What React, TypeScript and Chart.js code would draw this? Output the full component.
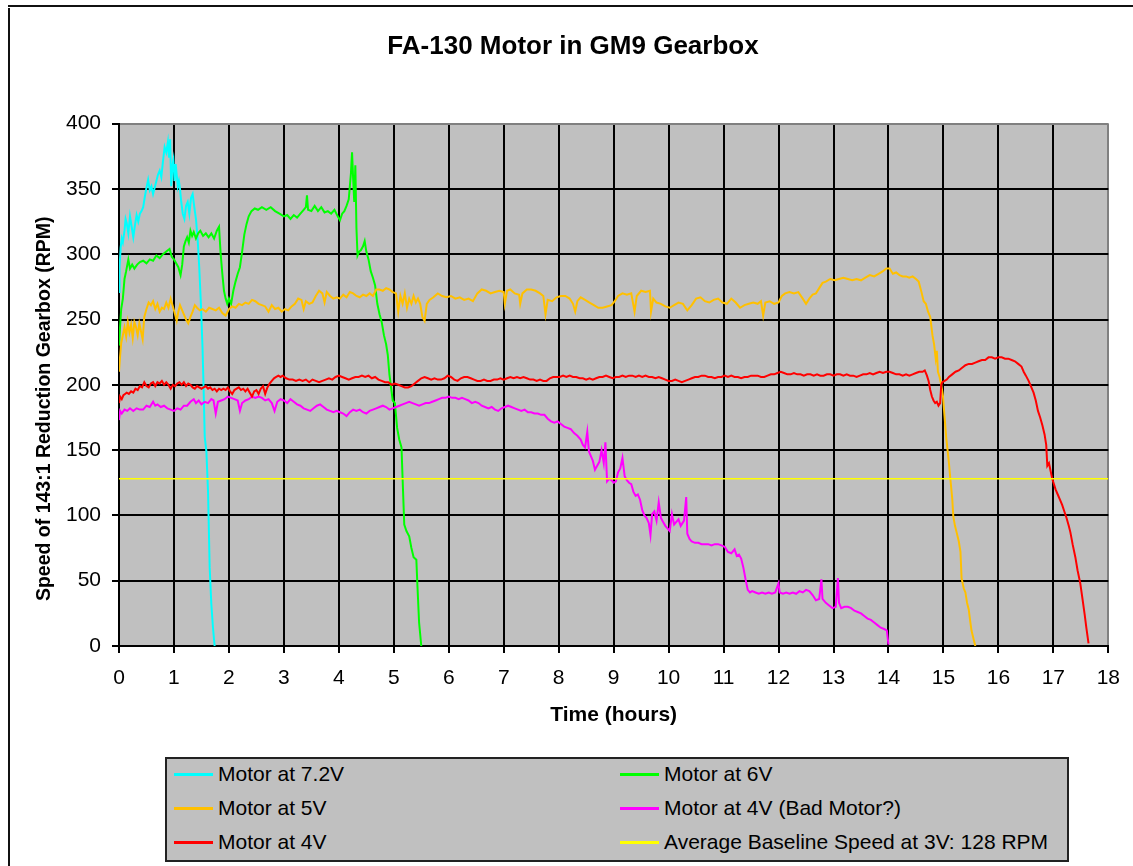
import React, { useEffect, useRef } from "react";
import { Chart, registerables } from "chart.js";

Chart.register(...registerables);

const TITLE = "FA-130 Motor in GM9 Gearbox";
const X_TITLE = "Time (hours)";
const Y_TITLE = "Speed of 143:1 Reduction Gearbox (RPM)";

const X_MIN = 0;
const X_MAX = 18;
const X_STEP = 1;
const Y_MIN = 0;
const Y_MAX = 400;
const Y_STEP = 50;

const SERIES_NAMES = [
  "Motor at 7.2V",
  "Motor at 6V",
  "Motor at 5V",
  "Motor at 4V (Bad Motor?)",
  "Motor at 4V",
  "Average Baseline Speed at 3V: 128 RPM",
];
const SERIES_COLORS = ["#00FFFF", "#00FF00", "#FFC000", "#FF00FF", "#FF0000", "#FFFF00"];

// [hours, RPM]
const motor72V: [number, number][] = [
  [0,271],[0.01,290],[0.03,305],[0.05,312],[0.07,309],[0.1,318],[0.12,327],[0.14,324],[0.17,316],[0.2,329],
  [0.23,321],[0.26,313],[0.29,322],[0.32,330],[0.35,325],[0.38,331],[0.41,333],[0.44,336],[0.47,344],[0.5,351],
  [0.53,357],[0.56,349],[0.59,352],[0.62,346],[0.65,351],[0.68,356],[0.71,361],[0.74,364],[0.77,359],[0.8,371],
  [0.83,382],[0.86,378],[0.89,386],[0.91,374],[0.93,388],[0.95,352],[0.97,367],[0.99,372],[1.01,356],[1.03,369],
  [1.05,361],[1.07,352],[1.09,356],[1.11,350],[1.13,341],[1.16,331],[1.19,327],[1.22,337],[1.25,340],[1.28,331],
  [1.31,343],[1.34,346],[1.37,336],[1.4,327],[1.43,312],[1.46,290],[1.49,262],[1.52,228],[1.54,196],[1.56,160],
  [1.59,149],[1.62,118],[1.65,60],[1.68,32],[1.71,14],[1.74,0],
];

const motor6V: [number, number][] = [
  [0,230],[0.02,245],[0.04,258],[0.07,266],[0.1,281],[0.13,287],[0.17,296],[0.2,289],[0.24,292],[0.28,289],
  [0.33,292],[0.38,294],[0.44,295],[0.5,293],[0.56,296],[0.62,295],[0.68,299],[0.74,297],[0.8,300],[0.86,302],
  [0.92,304],[0.96,298],[1.0,296],[1.04,293],[1.08,290],[1.12,284],[1.15,292],[1.18,306],[1.21,310],[1.24,313],
  [1.27,309],[1.3,318],[1.33,314],[1.36,317],[1.4,312],[1.44,316],[1.48,318],[1.53,314],[1.58,316],[1.63,313],
  [1.68,316],[1.73,312],[1.78,318],[1.82,321],[1.85,300],[1.88,285],[1.91,272],[1.94,266],[1.97,262],[2.0,266],
  [2.04,262],[2.08,272],[2.12,279],[2.16,285],[2.2,290],[2.24,302],[2.28,315],[2.32,323],[2.36,329],[2.41,333],
  [2.47,335],[2.53,334],[2.6,336],[2.68,334],[2.76,336],[2.84,333],[2.92,331],[3.0,329],[3.06,330],[3.12,327],
  [3.18,330],[3.24,328],[3.3,331],[3.36,334],[3.4,336],[3.42,345],[3.44,334],[3.5,333],[3.56,337],[3.62,333],
  [3.68,336],[3.74,332],[3.8,333],[3.86,331],[3.92,334],[3.98,329],[4.02,326],[4.06,331],[4.1,333],[4.14,337],
  [4.18,342],[4.2,352],[4.22,362],[4.24,378],[4.26,358],[4.28,340],[4.3,368],[4.32,320],[4.34,299],[4.37,302],
  [4.4,303],[4.44,306],[4.47,310],[4.5,302],[4.54,296],[4.58,287],[4.62,282],[4.66,276],[4.7,262],[4.74,254],
  [4.78,248],[4.82,238],[4.86,231],[4.89,223],[4.92,208],[4.95,198],[4.98,188],[5.02,186],[5.06,167],[5.1,158],
  [5.14,152],[5.16,128],[5.19,93],[5.23,88],[5.28,84],[5.32,75],[5.36,68],[5.41,66],[5.43,46],[5.46,18],[5.5,0],
];

const motor5V: [number, number][] = [
  [0,210],[0.02,222],[0.04,232],[0.07,238],[0.1,244],[0.13,237],[0.16,248],[0.19,240],[0.22,246],[0.25,236],
  [0.28,248],[0.31,244],[0.34,238],[0.37,247],[0.4,241],[0.43,235],[0.46,252],[0.5,258],[0.54,263],[0.58,261],
  [0.62,264],[0.66,258],[0.7,262],[0.74,256],[0.78,259],[0.82,258],[0.86,263],[0.9,259],[0.94,266],[0.98,260],
  [1.02,254],[1.05,249],[1.08,256],[1.11,261],[1.14,258],[1.18,254],[1.22,250],[1.26,247],[1.3,252],[1.34,256],
  [1.38,261],[1.42,259],[1.47,257],[1.52,258],[1.58,256],[1.64,259],[1.7,258],[1.76,257],[1.82,259],[1.88,255],
  [1.94,253],[2.0,258],[2.06,260],[2.12,259],[2.18,262],[2.24,261],[2.3,263],[2.36,262],[2.42,265],[2.48,264],
  [2.54,262],[2.6,261],[2.66,260],[2.72,256],[2.78,261],[2.84,258],[2.9,259],[2.96,256],[3.02,258],[3.08,257],
  [3.14,260],[3.2,262],[3.26,266],[3.32,265],[3.36,258],[3.4,264],[3.46,262],[3.52,263],[3.58,268],[3.64,272],
  [3.7,270],[3.74,263],[3.78,271],[3.84,268],[3.9,266],[3.96,267],[4.02,266],[4.08,269],[4.14,267],[4.2,271],
  [4.26,270],[4.32,268],[4.38,267],[4.44,269],[4.5,268],[4.56,270],[4.62,268],[4.68,273],[4.74,273],[4.8,272],
  [4.86,274],[4.92,273],[4.98,271],[5.04,270],[5.08,256],[5.12,268],[5.16,262],[5.2,270],[5.24,259],[5.28,266],
  [5.32,262],[5.36,268],[5.4,263],[5.44,266],[5.48,262],[5.52,252],[5.56,249],[5.6,262],[5.65,265],[5.72,267],
  [5.8,270],[5.88,268],[5.96,267],[6.04,268],[6.12,266],[6.2,267],[6.28,265],[6.36,266],[6.44,264],[6.52,270],
  [6.6,273],[6.68,272],[6.76,270],[6.84,271],[6.92,272],[7.0,271],[7.02,262],[7.06,272],[7.12,273],[7.2,270],
  [7.28,269],[7.3,262],[7.34,270],[7.42,273],[7.5,273],[7.58,272],[7.66,270],[7.72,268],[7.76,254],[7.8,265],
  [7.88,264],[7.96,267],[8.04,268],[8.12,268],[8.2,266],[8.26,262],[8.3,256],[8.34,264],[8.4,267],[8.48,265],
  [8.56,263],[8.64,261],[8.72,259],[8.8,259],[8.88,260],[8.96,261],[9.02,264],[9.08,268],[9.16,270],[9.24,269],
  [9.32,270],[9.38,256],[9.42,268],[9.5,272],[9.58,271],[9.66,272],[9.68,256],[9.72,266],[9.78,263],[9.86,262],
  [9.94,260],[10.02,259],[10.1,261],[10.18,263],[10.26,262],[10.34,257],[10.42,261],[10.5,266],[10.58,267],[10.66,264],
  [10.74,263],[10.82,265],[10.9,266],[10.98,263],[11.06,262],[11.14,266],[11.22,263],[11.3,259],[11.38,261],[11.46,262],
  [11.54,263],[11.62,262],[11.68,264],[11.72,253],[11.76,263],[11.84,264],[11.92,262],[12.0,263],[12.06,268],[12.12,270],
  [12.2,271],[12.28,270],[12.36,271],[12.44,266],[12.5,262],[12.56,266],[12.62,269],[12.68,270],[12.74,274],[12.8,278],
  [12.86,279],[12.94,281],[13.02,280],[13.1,281],[13.18,282],[13.26,281],[13.34,280],[13.42,281],[13.5,280],[13.58,282],
  [13.66,284],[13.74,283],[13.82,285],[13.9,287],[13.96,289],[14.02,289],[14.08,285],[14.14,286],[14.2,284],[14.26,283],
  [14.32,283],[14.38,282],[14.44,283],[14.5,281],[14.55,279],[14.6,271],[14.64,264],[14.68,262],[14.72,256],[14.76,252],
  [14.8,238],[14.83,231],[14.86,220],[14.88,226],[14.9,210],[14.93,206],[14.96,200],[14.99,192],[15.02,176],[15.05,160],
  [15.08,148],[15.1,140],[15.13,126],[15.16,113],[15.18,99],[15.21,92],[15.24,87],[15.28,80],[15.31,72],[15.33,52],
  [15.37,44],[15.4,41],[15.43,33],[15.46,28],[15.49,18],[15.51,12],[15.55,5],[15.58,0],
];

const motor4VBad: [number, number][] = [
  [0,173],[0.02,180],[0.05,178],[0.1,181],[0.15,180],[0.2,182],[0.26,180],[0.32,182],[0.38,181],[0.44,181],
  [0.5,184],[0.56,183],[0.62,187],[0.66,184],[0.7,185],[0.76,183],[0.82,184],[0.88,182],[0.94,181],[1.0,180],
  [1.06,182],[1.12,181],[1.18,184],[1.24,184],[1.3,187],[1.36,189],[1.4,186],[1.45,188],[1.5,185],[1.56,187],
  [1.62,186],[1.68,189],[1.72,188],[1.76,178],[1.8,187],[1.86,188],[1.92,189],[1.98,191],[2.04,190],[2.1,189],
  [2.16,188],[2.2,180],[2.24,186],[2.3,188],[2.36,189],[2.42,191],[2.48,190],[2.54,191],[2.6,190],[2.66,188],
  [2.72,189],[2.78,186],[2.83,180],[2.88,187],[2.94,189],[3.0,188],[3.06,186],[3.12,189],[3.18,187],[3.24,185],
  [3.3,184],[3.36,182],[3.42,181],[3.48,180],[3.54,182],[3.6,184],[3.66,185],[3.72,183],[3.78,181],[3.84,180],
  [3.9,179],[3.96,180],[4.02,179],[4.08,178],[4.14,176],[4.2,179],[4.26,181],[4.32,180],[4.38,181],[4.44,179],
  [4.5,178],[4.56,180],[4.62,181],[4.68,182],[4.74,183],[4.8,184],[4.86,183],[4.92,181],[4.98,182],[5.04,183],
  [5.1,184],[5.16,185],[5.22,186],[5.28,187],[5.34,186],[5.4,185],[5.46,184],[5.52,185],[5.58,186],[5.64,186],
  [5.7,187],[5.76,188],[5.82,189],[5.88,190],[5.94,190],[6.0,191],[6.06,190],[6.12,190],[6.18,189],[6.24,190],
  [6.3,189],[6.36,188],[6.42,186],[6.48,187],[6.54,186],[6.6,184],[6.66,183],[6.72,182],[6.78,183],[6.84,181],
  [6.9,180],[6.96,182],[7.02,183],[7.08,184],[7.14,183],[7.2,182],[7.26,181],[7.32,180],[7.38,181],[7.44,179],
  [7.5,179],[7.56,178],[7.62,178],[7.68,177],[7.74,177],[7.8,174],[7.86,172],[7.92,171],[7.98,172],[8.04,170],
  [8.1,168],[8.16,167],[8.22,166],[8.28,163],[8.34,161],[8.4,158],[8.44,154],[8.48,152],[8.52,164],[8.55,149],
  [8.58,146],[8.62,142],[8.66,135],[8.7,138],[8.74,141],[8.78,150],[8.82,140],[8.85,156],[8.88,126],[8.92,128],
  [8.96,127],[9.0,125],[9.04,126],[9.08,133],[9.12,136],[9.16,144],[9.2,130],[9.24,127],[9.28,125],[9.32,124],
  [9.36,118],[9.4,115],[9.44,116],[9.48,112],[9.52,104],[9.56,100],[9.6,98],[9.64,94],[9.67,85],[9.7,101],
  [9.74,103],[9.78,96],[9.82,110],[9.86,98],[9.9,95],[9.94,92],[9.98,90],[10.02,88],[10.06,101],[10.1,93],
  [10.14,95],[10.18,97],[10.22,92],[10.28,96],[10.32,114],[10.34,86],[10.38,82],[10.42,80],[10.48,79],[10.54,79],
  [10.6,78],[10.66,78],[10.72,78],[10.78,77],[10.84,78],[10.9,78],[10.96,77],[11.02,76],[11.08,72],[11.14,71],
  [11.2,74],[11.24,69],[11.28,70],[11.32,67],[11.36,60],[11.4,51],[11.44,43],[11.48,41],[11.52,42],[11.58,41],
  [11.64,40],[11.7,41],[11.76,40],[11.82,41],[11.88,40],[11.94,41],[12.0,48],[12.02,41],[12.08,40],[12.14,41],
  [12.2,40],[12.26,41],[12.32,40],[12.38,42],[12.44,41],[12.5,43],[12.56,42],[12.62,39],[12.68,35],[12.74,36],
  [12.78,51],[12.8,36],[12.86,33],[12.92,31],[12.98,29],[13.04,30],[13.08,52],[13.1,33],[13.14,29],[13.2,30],
  [13.26,30],[13.32,29],[13.38,27],[13.44,26],[13.5,25],[13.56,23],[13.62,21],[13.68,20],[13.74,18],[13.8,16],
  [13.86,14],[13.92,13],[13.97,12],[14.0,1],
];

const motor4V: [number, number][] = [
  [0,186],[0.02,191],[0.05,189],[0.08,192],[0.11,193],[0.14,194],[0.18,193],[0.22,195],[0.26,194],[0.3,197],
  [0.34,196],[0.38,199],[0.42,198],[0.46,202],[0.5,199],[0.54,198],[0.58,201],[0.62,202],[0.66,199],[0.7,202],
  [0.74,201],[0.78,203],[0.82,200],[0.86,202],[0.9,200],[0.94,197],[0.98,200],[1.02,199],[1.06,201],[1.1,202],
  [1.14,200],[1.18,202],[1.22,199],[1.26,201],[1.3,200],[1.34,198],[1.38,197],[1.42,199],[1.46,198],[1.5,197],
  [1.54,198],[1.58,199],[1.62,197],[1.66,198],[1.7,196],[1.74,197],[1.78,195],[1.82,197],[1.86,196],[1.9,197],
  [1.94,196],[1.98,198],[2.02,195],[2.06,193],[2.1,196],[2.14,197],[2.18,198],[2.22,196],[2.26,197],[2.3,195],
  [2.34,197],[2.38,194],[2.42,191],[2.46,195],[2.5,196],[2.54,193],[2.58,197],[2.62,199],[2.66,193],[2.7,198],
  [2.74,201],[2.78,203],[2.82,205],[2.86,206],[2.9,207],[2.94,206],[2.98,207],[3.04,205],[3.1,204],[3.16,204],
  [3.22,203],[3.28,204],[3.34,203],[3.4,204],[3.46,202],[3.52,204],[3.58,203],[3.64,202],[3.7,203],[3.76,204],
  [3.82,205],[3.88,204],[3.94,206],[4.0,207],[4.06,206],[4.12,205],[4.18,204],[4.24,205],[4.3,206],[4.36,206],
  [4.42,207],[4.48,206],[4.54,207],[4.6,205],[4.66,206],[4.72,204],[4.78,203],[4.84,202],[4.9,202],[4.96,200],
  [5.02,201],[5.08,200],[5.14,199],[5.2,198],[5.26,198],[5.32,199],[5.38,201],[5.44,203],[5.5,205],[5.56,206],
  [5.62,205],[5.68,204],[5.74,205],[5.8,204],[5.86,204],[5.92,205],[5.98,207],[6.04,206],[6.1,204],[6.16,203],
  [6.22,205],[6.28,206],[6.34,206],[6.4,205],[6.46,204],[6.52,203],[6.58,203],[6.64,204],[6.7,203],[6.76,203],
  [6.82,204],[6.88,204],[6.94,205],[7.0,204],[7.06,205],[7.12,206],[7.18,205],[7.24,206],[7.3,205],[7.36,206],
  [7.42,205],[7.48,204],[7.54,204],[7.6,203],[7.66,204],[7.72,203],[7.78,203],[7.84,205],[7.9,206],[7.96,206],
  [8.02,206],[8.08,207],[8.14,206],[8.2,207],[8.26,206],[8.32,206],[8.38,205],[8.44,205],[8.5,204],[8.56,205],
  [8.62,204],[8.68,205],[8.74,206],[8.8,206],[8.86,207],[8.92,206],[8.98,205],[9.04,206],[9.1,206],[9.16,207],
  [9.22,206],[9.28,207],[9.34,207],[9.4,206],[9.46,207],[9.52,206],[9.58,207],[9.64,206],[9.7,206],[9.76,205],
  [9.82,206],[9.88,205],[9.94,204],[10.0,203],[10.06,203],[10.12,204],[10.18,203],[10.24,202],[10.3,203],[10.36,204],
  [10.42,205],[10.48,206],[10.54,206],[10.6,207],[10.66,207],[10.72,206],[10.78,206],[10.84,205],[10.9,206],[10.96,206],
  [11.02,207],[11.08,206],[11.14,207],[11.2,206],[11.26,206],[11.32,205],[11.38,206],[11.44,206],[11.5,207],[11.56,207],
  [11.62,207],[11.68,206],[11.74,206],[11.8,207],[11.86,208],[11.92,208],[11.98,209],[12.04,210],[12.1,209],[12.16,208],
  [12.22,208],[12.28,209],[12.34,208],[12.4,208],[12.46,207],[12.52,208],[12.58,208],[12.64,207],[12.7,208],[12.76,207],
  [12.82,207],[12.88,208],[12.94,208],[13.0,207],[13.06,208],[13.12,208],[13.18,207],[13.24,208],[13.3,207],[13.36,207],
  [13.42,206],[13.48,207],[13.54,208],[13.6,208],[13.66,209],[13.72,208],[13.78,209],[13.84,210],[13.9,209],[13.96,210],
  [14.02,210],[14.08,209],[14.14,208],[14.2,208],[14.26,207],[14.32,208],[14.38,207],[14.44,208],[14.5,209],[14.56,210],
  [14.62,210],[14.66,211],[14.7,207],[14.73,203],[14.76,196],[14.79,191],[14.82,188],[14.85,186],[14.88,187],[14.91,184],
  [14.94,186],[14.96,200],[14.98,202],[15.02,203],[15.06,204],[15.1,206],[15.16,208],[15.22,210],[15.28,211],[15.34,213],
  [15.4,215],[15.46,216],[15.52,216],[15.58,217],[15.64,218],[15.7,219],[15.76,219],[15.82,221],[15.88,221],[15.94,220],
  [16.0,221],[16.06,221],[16.12,220],[16.18,220],[16.24,219],[16.3,218],[16.36,216],[16.42,214],[16.46,210],[16.5,207],
  [16.55,203],[16.6,198],[16.64,194],[16.68,188],[16.72,180],[16.76,175],[16.8,169],[16.84,162],[16.87,154],[16.89,138],
  [16.92,140],[16.95,134],[16.98,128],[17.01,124],[17.04,120],[17.08,116],[17.12,112],[17.16,108],[17.2,103],[17.24,98],
  [17.28,92],[17.31,87],[17.35,78],[17.4,68],[17.44,58],[17.49,48],[17.53,36],[17.57,24],[17.6,14],[17.64,2],
];

const baseline3V: [number, number][] = [[0, 128], [18, 128]];

const SERIES_DATA = [motor72V, motor6V, motor5V, motor4VBad, motor4V, baseline3V];
const SERIES_ORDER = [5, 4, 3, 2, 1, 0];

const FONT = '"Liberation Sans", Arial, Helvetica, sans-serif';

const plotBgPlugin = {
  id: "plotBg",
  beforeDraw(chart: any) {
    const { ctx, chartArea } = chart;
    if (!chartArea) return;
    ctx.save();
    ctx.fillStyle = "#C0C0C0";
    ctx.fillRect(chartArea.left, chartArea.top, chartArea.right - chartArea.left, chartArea.bottom - chartArea.top);
    ctx.restore();
  },
};

// Vertical axis title, centred a little below the plot's middle as in the reference
const yTitlePlugin = {
  id: "yTitle",
  afterDraw(chart: any) {
    const { ctx, chartArea } = chart;
    if (!chartArea) return;
    ctx.save();
    ctx.translate(35, (chartArea.top + chartArea.bottom) / 2 + 24);
    ctx.rotate(-Math.PI / 2);
    ctx.textAlign = "center";
    ctx.textBaseline = "middle";
    ctx.fillStyle = "#000";
    ctx.font = `bold 19.5px ${FONT}`;
    ctx.fillText(Y_TITLE, 0, 0);
    ctx.restore();
  },
};

export default function App() {
  const canvasRef = useRef<HTMLCanvasElement | null>(null);

  useEffect(() => {
    document.documentElement.style.overflow = "hidden";
    const canvas = canvasRef.current;
    if (!canvas) return;
    Chart.defaults.font.family = FONT;
    Chart.defaults.color = "#000";

    const chart = new Chart(canvas, {
      type: "line",
      data: {
        datasets: SERIES_DATA.map((series, i) => ({
          label: SERIES_NAMES[i],
          data: series.map(([x, y]) => ({ x, y })),
          borderColor: SERIES_COLORS[i],
          backgroundColor: SERIES_COLORS[i],
          borderWidth: i === 5 ? 1.5 : 2,
          pointRadius: 0,
          tension: 0,
          fill: false,
          order: SERIES_ORDER[i],
        })),
      },
      options: {
        animation: false,
        responsive: false,
        devicePixelRatio: 1,
        layout: { padding: { left: 26, right: 23, top: 0, bottom: 120 } },
        plugins: {
          legend: { display: false },
          tooltip: { enabled: false },
          title: {
            display: true,
            text: TITLE,
            color: "#000",
            font: { size: 26, weight: "bold", family: FONT },
            padding: { top: 23.4, bottom: 61 },
          },
        },
        scales: {
          x: {
            type: "linear",
            min: X_MIN,
            max: X_MAX,
            afterFit: (s: any) => {
              s.height = 100;
            },
            ticks: {
              stepSize: X_STEP,
              autoSkip: false,
              maxRotation: 0,
              padding: 13,
              color: "#000",
              font: { size: 21, family: FONT },
            },
            grid: {
              color: (c: any) => (c.tick && c.tick.value === X_MAX ? "#808080" : "#000"),
              tickColor: "#000",
              lineWidth: 2,
              tickLength: 7,
            },
            border: { display: true, color: "#000", width: 2 },
            title: {
              display: true,
              text: X_TITLE,
              color: "#000",
              font: { size: 21, weight: "bold", family: FONT },
              padding: { top: 0, bottom: 18 },
            },
          },
          y: {
            type: "linear",
            min: Y_MIN,
            max: Y_MAX,
            afterFit: (s: any) => {
              s.width = 83;
            },
            ticks: {
              stepSize: Y_STEP,
              padding: 11,
              color: "#000",
              font: { size: 21, family: FONT },
            },
            grid: {
              color: (c: any) => (c.tick && c.tick.value === Y_MAX ? "#808080" : "#000"),
              tickColor: "#000",
              lineWidth: 2,
              tickLength: 7,
            },
            border: { display: true, color: "#000", width: 2 },
            title: { display: false },
          },
        },
      },
      plugins: [plotBgPlugin, yTitlePlugin],
    } as any);

    return () => {
      chart.destroy();
    };
  }, []);

  const legendRows = [
    [0, 1],
    [2, 3],
    [4, 5],
  ];
  const rowCenters = [15, 49, 83];
  const colLineX = [7, 453];
  const colTextX = [51, 497];

  return (
    <>
      <div
        style={{
          position: "fixed",
          left: 8,
          top: 5,
          width: 1200,
          height: 2,
          background: "#111",
          zIndex: 5,
        }}
      />
      <div
        style={{
          position: "relative",
          width: 1125,
          height: 860,
          marginTop: -2,
          borderLeft: "2px solid #111",
          borderTop: "2px solid #111",
          boxSizing: "border-box",
          overflow: "hidden",
          background: "#fff",
        }}
      >
        <canvas ref={canvasRef} width={1123} height={858} style={{ display: "block" }} />
        <div
          style={{
            position: "absolute",
            left: 155,
            top: 749,
            width: 904,
            height: 105,
            boxSizing: "border-box",
            border: "2px solid #222",
            background: "#C0C0C0",
            fontFamily: FONT,
            fontSize: 21,
            color: "#000",
          }}
        >
          {legendRows.map((row, r) =>
            row.map((si, c) => (
              <React.Fragment key={si}>
                <div
                  style={{
                    position: "absolute",
                    left: colLineX[c],
                    top: rowCenters[r] - 1.5,
                    width: 39,
                    height: 3,
                    background: SERIES_COLORS[si],
                  }}
                />
                <div
                  style={{
                    position: "absolute",
                    left: colTextX[c],
                    top: rowCenters[r] - 13,
                    height: 26,
                    lineHeight: "26px",
                    whiteSpace: "nowrap",
                  }}
                >
                  {SERIES_NAMES[si]}
                </div>
              </React.Fragment>
            ))
          )}
        </div>
      </div>
    </>
  );
}
